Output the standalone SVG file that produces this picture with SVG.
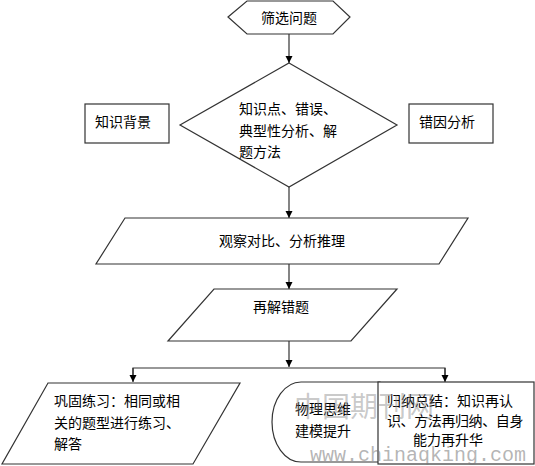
<svg xmlns="http://www.w3.org/2000/svg" width="535" height="466" viewBox="0 0 535 466">
<style>
.s{fill:#fff;stroke:#333;stroke-width:1.2}
.t{font-family:"Noto Sans CJK SC","Liberation Sans",sans-serif;font-size:14px;fill:#000;dominant-baseline:central}
.c{stroke:#333;stroke-width:1.2;fill:none}
.wm{font-family:"Noto Sans CJK SC",serif;font-size:28px;fill:#888;fill-opacity:0.45}
.wm2{font-family:"Liberation Mono",monospace;font-size:20px;fill:#777;fill-opacity:0.55}
</style>
<defs>
<marker id="ah" markerWidth="8" markerHeight="8" refX="7" refY="4" orient="auto" markerUnits="userSpaceOnUse">
<path d="M0,0.5 L7,4 L0,7.5 Z" fill="#000"/>
</marker>
</defs>
<rect width="535" height="466" fill="#fff"/>
<g id="connectors">
<line class="c" x1="289" y1="34" x2="289" y2="63" marker-end="url(#ah)"/>
<line class="c" x1="289" y1="187" x2="289" y2="218" marker-end="url(#ah)"/>
<line class="c" x1="289" y1="264" x2="289" y2="289" marker-end="url(#ah)"/>
<line class="c" x1="289" y1="341" x2="289" y2="367" marker-end="url(#ah)"/>
<polyline class="c" points="133,377 133,368 445,368 445,377"/>
<line class="c" x1="133" y1="368" x2="133" y2="382" marker-end="url(#ah)"/>
<line class="c" x1="445" y1="368" x2="445" y2="382" marker-end="url(#ah)"/>
</g>
<g id="n1">
<polygon class="s" points="228,17 247,1 333,1 350,17 333,34 247,34"/>
<text class="t" x="289" y="17" text-anchor="middle">筛选问题</text>
</g>
<g id="n2">
<polygon class="s" points="289,63 397,125 289,187 180,125"/>
<text class="t" x="239" y="108">知识点、错误、</text>
<text class="t" x="239" y="130">典型性分析、解</text>
<text class="t" x="239" y="151">题方法</text>
</g>
<g id="n3">
<rect class="s" x="85" y="104" width="84" height="39"/>
<text class="t" x="95" y="121">知识背景</text>
</g>
<g id="n4">
<rect class="s" x="409" y="104" width="84" height="39"/>
<text class="t" x="419" y="121">错因分析</text>
</g>
<g id="n5">
<polygon class="s" points="125,218 468,218 439,264 96,264"/>
<text class="t" x="282" y="240" text-anchor="middle">观察对比、分析推理</text>
</g>
<g id="n6">
<polygon class="s" points="214,289 397,289 351,341 168,341"/>
<text class="t" x="281" y="306" text-anchor="middle">再解错题</text>
</g>
<g id="n7">
<polygon class="s" points="48,383 240,383 193,464 2,464"/>
<text class="t" x="54" y="400">巩固练习：相同或相</text>
<text class="t" x="54" y="422">关的题型进行练习、</text>
<text class="t" x="54" y="443">解答</text>
</g>
<g id="n8">
<path class="s" d="M380,382 L301,382 A29,40 0 0 0 301,462 L380,462 Z"/>
<text class="t" x="295" y="408">物理思维</text>
<text class="t" x="295" y="430">建模提升</text>
</g>
<g id="n9">
<rect class="s" x="378" y="382" width="156" height="82"/>
<text class="t" x="387" y="400">归纳总结：知识再认</text>
<text class="t" x="387" y="420" style="letter-spacing:-0.4px">识、方法再归纳、自身</text>
<text class="t" x="448" y="439" text-anchor="middle">能力再升华</text>
</g>
<g id="watermark">
<text class="wm" x="294" y="417">中国期刊网</text>
<text class="wm2" x="310" y="461">www.chinaqking.com</text>
</g>
</svg>
